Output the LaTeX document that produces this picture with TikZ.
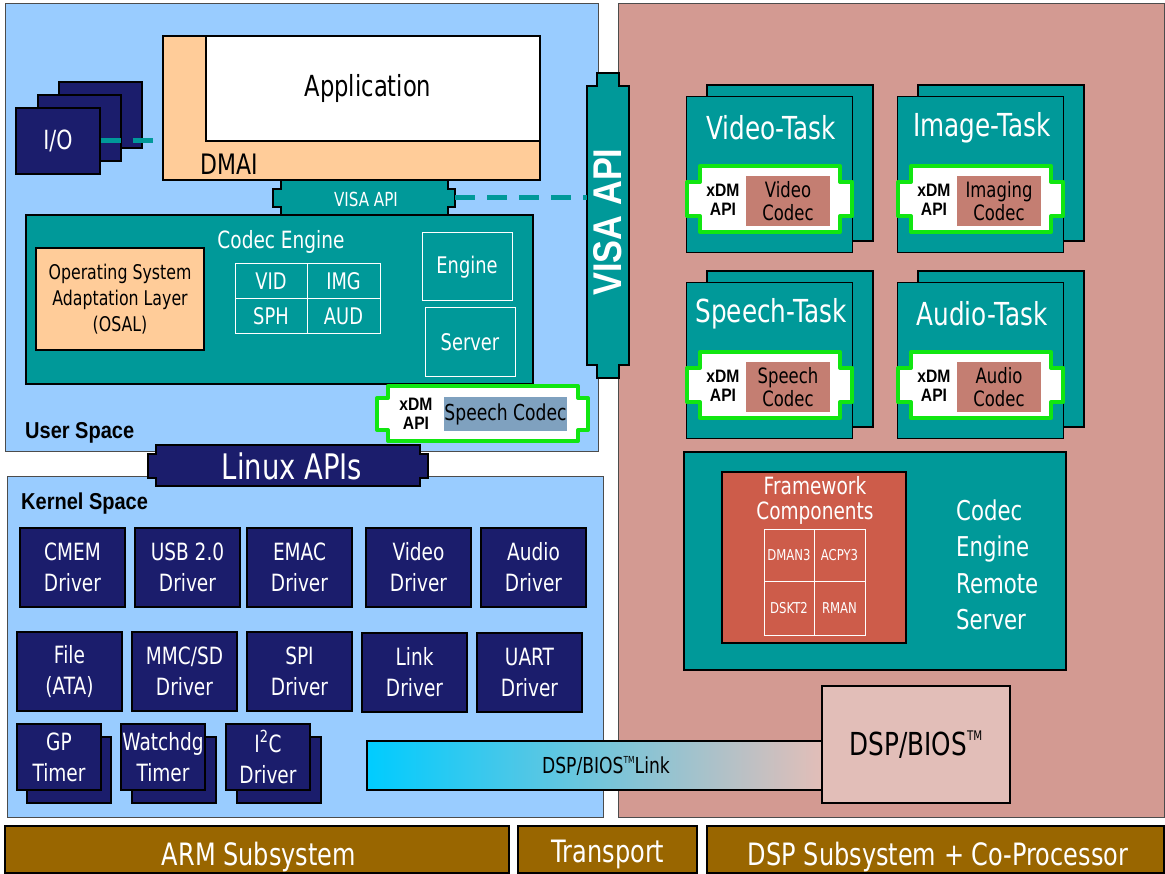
\documentclass[tikz,border=0pt]{standalone}
\usepackage{fontspec}
\usepackage{graphicx}
\setmainfont{DejaVu Sans}[FakeStretch=0.78, Scale=0.88]
\newfontfamily\bfam{Liberation Sans}[FakeStretch=0.87]
\definecolor{ublue}{HTML}{99CCFF}
\definecolor{dpink}{HTML}{D39A92}
\definecolor{cteal}{HTML}{009999}
\definecolor{navy}{HTML}{1B1D6C}
\definecolor{peach}{HTML}{FFCC99}
\definecolor{cbrown}{HTML}{996600}
\definecolor{cgreen}{HTML}{11E611}
\definecolor{csalmon}{HTML}{C47E72}
\definecolor{cblue2}{HTML}{7FA1BF}
\definecolor{cframe}{HTML}{CD5C4A}
\definecolor{cbios}{HTML}{E2BEB8}
\definecolor{ccyan}{HTML}{00CCFF}
\newcommand\fsz[2]{\fontsize{#1}{#2}\selectfont}
\newcommand\tmark[1]{\raisebox{0.9ex}{\fontsize{#1}{#1}\selectfont TM}}
\newcommand\mybox[7]{%
  \pgfmathsetmacro\bxc{(#2+#4)/2}\pgfmathsetmacro\byc{(#3+#5)/2}%
  \pgfmathsetmacro\bxw{#4-#2}\pgfmathsetmacro\byh{#5-#3}%
  \node[inner sep=0pt, align=center, #6, minimum width=\bxw pt, minimum height=\byh pt] (#1) at (\bxc,\byc) {#7};}
\tikzset{
  panel/.style={draw=black!70, line width=1pt},
  outl/.style={draw=black, line width=1.2pt},
  navybox/.style={outl, fill=navy, text=white, font=\fsz{27}{31}},
  bar/.style={outl, fill=cbrown, text=white, font=\fsz{35}{40}},
  cell/.style={draw=white, line width=1pt, text=white},
  wtext/.style={text=white, inner sep=0pt},
  tdash/.style={draw=cteal, line width=5pt, dash pattern=on 20pt off 12pt},
  xdm/.style={draw=cgreen, line width=4pt, fill=white, line join=round},
  xdmt/.style={font=\bfam\bfseries\fsz{18}{19}, align=center, inner sep=0pt},
  tasktitle/.style={text=white, inner sep=0pt, font=\fsz{36}{40}},
  codecbox/.style={fill=csalmon, inner sep=0pt, align=center, font=\fsz{24}{23}},
}
\newcommand\mytask[5]{%
  \begin{scope}[shift={(#2,#3)}]
    \path[outl, fill=cteal] (21,-11) rectangle (187,145);
    \node[outl, fill=cteal, inner sep=0pt, minimum width=166pt, minimum height=156pt, anchor=north west] (#1) at (0,0) {};
    \node[tasktitle] (#1-t) at (85,32) {#4};
    \path[xdm] (14,70) -- (154,70) -- (154,86) -- (166,86) -- (166,120) -- (154,120) -- (154,136) -- (14,136) -- (14,120) -- (1,120) -- (1,86) -- (14,86) -- cycle;
    \node[codecbox, minimum width=84pt, minimum height=50pt] (#1-c) at (102,105) {#5};
    \node[xdmt] (#1-x) at (37,104) {xDM\\API};
  \end{scope}}
\begin{document}
\begin{tikzpicture}[x=1pt,y=-1pt]
\useasboundingbox (0,0) rectangle (1165,874);
\fill[white] (0,0) rectangle (1165,874);
% panels
\mybox{user}{5}{4}{598}{452}{panel, fill=ublue}{}
\mybox{dsp}{618}{4}{1164}{817}{panel, fill=dpink}{}
\mybox{kern}{7}{476}{603}{817}{panel, fill=ublue}{}
% bottom bars
\mybox{arm}{5}{826}{509}{873}{bar}{}
\mybox{trans}{518}{826}{697}{873}{bar}{}
\mybox{dspsub}{707}{826}{1164}{873}{bar}{}
\node[wtext, font=\fsz{35}{40}, anchor=base] (armt) at (259,865) {ARM Subsystem};
\node[wtext, font=\fsz{35}{40}, anchor=base] (transt) at (608,862) {Transport};
\node[wtext, font=\fsz{35}{40}, anchor=base] (dspsubt) at (938,865) {DSP Subsystem + Co-Processor};
% I/O
\path[outl, fill=navy] (59,82) rectangle (142,148);
\path[outl, fill=navy] (38,95) rectangle (121,161);
\mybox{io}{16}{108}{100}{174}{navybox, font=\fsz{30}{34}}{I/O}
% DMAI + Application
\mybox{dmai}{163}{36}{540}{180}{outl, fill=peach}{}
\mybox{app}{206}{36}{540}{141}{outl, fill=white}{}
\node[font=\fsz{33}{36}, inner sep=0pt] (apptxt) at (368,88) {Application};
\node[font=\fsz{32}{36}, anchor=west, inner sep=0pt] (dmaitxt) at (200,164) {DMAI};
\draw[tdash] (io.east) -- (io.east -| dmai.west);
% Codec engine
\mybox{ce}{26}{215}{533}{384}{outl, fill=cteal}{}
\node[wtext, font=\fsz{27}{30}] (cetitle) at (281,242) {Codec Engine};
\mybox{osal}{36}{248}{204}{350}{outl, fill=peach, font=\fsz{23}{26}}{Operating System\\Adaptation Layer\\(OSAL)}
\mybox{vid}{235}{264}{307}{299}{cell, font=\fsz{26}{28}}{VID}
\mybox{img}{307}{264}{380}{299}{cell, font=\fsz{26}{28}}{IMG}
\mybox{sph}{235}{299}{307}{334}{cell, font=\fsz{26}{28}}{SPH}
\mybox{aud}{307}{299}{380}{334}{cell, font=\fsz{26}{28}}{AUD}
\mybox{eng}{422}{233}{512}{301}{cell, font=\fsz{26}{28}}{Engine}
\mybox{srv}{425}{308}{515}{377}{cell, font=\fsz{26}{28}}{Server}
% small VISA API
\path[outl, fill=cteal] (281,180) -- (448,180) -- (448,189) -- (455,189) -- (455,207) -- (448,207) -- (448,215) -- (281,215) -- (281,207) -- (273,207) -- (273,189) -- (281,189) -- cycle;
\node[inner sep=0pt, minimum width=182pt, minimum height=18pt] (visas) at (364,198) {};
\node[wtext, font=\fsz{22}{24}] (visastxt) at (366,199) {VISA API};
% big VISA API
\path[outl, fill=cteal] (597,73) -- (619,73) -- (619,86) -- (629,86) -- (629,365) -- (619,365) -- (619,378) -- (597,378) -- (597,365) -- (587,365) -- (587,86) -- (597,86) -- cycle;
\node[inner sep=0pt, minimum width=42pt, minimum height=279pt] (visab) at (608,225.5) {};
\node[rotate=90, text=white, inner sep=0pt] (visabt) at (608,222) {\resizebox{147pt}{28pt}{\bfam\bfseries VISA API}};
\draw[tdash] (visas.east) -- (visas.east -| visab.west);
% user-space xDM speech codec
\path[xdm] (388,386) -- (578,386) -- (578,398) -- (588,398) -- (588,430) -- (578,430) -- (578,441) -- (388,441) -- (388,430) -- (377,430) -- (377,398) -- (388,398) -- cycle;
\mybox{usc}{444}{397}{567}{431}{fill=cblue2, font=\fsz{25}{28}}{Speech Codec}
\node[xdmt] (uxdm) at (416,414) {xDM\\API};
\node[anchor=west, inner sep=0pt, font=\bfam\bfseries\fsz{23}{26}] (uspace) at (25,433) {User Space};
% Linux APIs
\path[outl, fill=navy] (156,445) -- (420,445) -- (420,454) -- (428,454) -- (428,478) -- (420,478) -- (420,486) -- (156,486) -- (156,478) -- (148,478) -- (148,454) -- (156,454) -- cycle;
\node[wtext, font=\fsz{40}{44}] (linux) at (292,466) {Linux APIs};
% Kernel space
\node[anchor=west, inner sep=0pt, font=\bfam\bfseries\fsz{23}{26}] (kspace) at (21,504) {Kernel Space};
\mybox{cmem}{20}{528}{125}{607}{navybox}{CMEM\\Driver}
\mybox{usb}{135}{528}{240}{607}{navybox}{USB 2.0\\Driver}
\mybox{emac}{247}{528}{352}{607}{navybox}{EMAC\\Driver}
\mybox{vdrv}{366}{528}{471}{607}{navybox}{Video\\Driver}
\mybox{adrv}{481}{528}{586}{607}{navybox}{Audio\\Driver}
\mybox{file}{17}{632}{122}{711}{navybox}{File\\(ATA)}
\mybox{mmc}{132}{632}{237}{711}{navybox}{MMC/SD\\Driver}
\mybox{spi}{247}{632}{352}{711}{navybox}{SPI\\Driver}
\mybox{link}{362}{633}{467}{712}{navybox}{Link\\Driver}
\mybox{uart}{477}{633}{582}{712}{navybox}{UART\\Driver}
\path[outl, fill=navy] (27,737) rectangle (111,803);
\mybox{gp}{17}{724}{101}{790}{navybox}{GP\\Timer}
\path[outl, fill=navy] (132,737) rectangle (216,803);
\mybox{wdg}{121}{724}{205}{790}{navybox}{Watchdg\\Timer}
\path[outl, fill=navy] (237,737) rectangle (321,803);
\mybox{iic}{226}{724}{310}{790}{navybox}{I\textsuperscript{2}C\\Driver}
% Tasks
\mytask{vt}{686}{96}{Video-Task}{Video\\Codec}
\mytask{it}{897}{96}{Image-Task}{Imaging\\Codec}
\mytask{st}{686}{282}{Speech-Task}{Speech\\Codec}
\mytask{at}{897}{282}{Audio-Task}{Audio\\Codec}
% Remote server
\mybox{rs}{684}{452}{1066}{670}{outl, fill=cteal}{}
\mybox{fw}{722}{472}{906}{643}{outl, fill=cframe}{}
\node[wtext, align=center, font=\fsz{27}{25}] (fwt) at (815,500) {Framework\\Components};
\mybox{dman}{764}{529}{814}{581}{cell, font=\fsz{17}{20}}{DMAN3}
\mybox{acpy}{814}{529}{865}{581}{cell, font=\fsz{17}{20}}{ACPY3}
\mybox{dskt}{764}{581}{814}{635}{cell, font=\fsz{17}{20}}{DSKT2}
\mybox{rman}{814}{581}{865}{635}{cell, font=\fsz{17}{20}}{RMAN}
\node[wtext, align=left, anchor=west, font=\fsz{31}{36.5}] (rst) at (956,565) {Codec\\Engine\\Remote\\Server};
% DSP/BIOS link
\mybox{lnk}{367}{741}{822}{790}{outl, left color=ccyan, right color=cbios}{}
\node[inner sep=0pt, font=\fsz{25}{28}] (lnkt) at (606,766) {DSP/BIOS\tmark{11}Link};
\mybox{bios}{822}{686}{1010}{803}{outl, fill=cbios, font=\fsz{36}{40}}{DSP/BIOS\tmark{15}}
\end{tikzpicture}
\end{document}
